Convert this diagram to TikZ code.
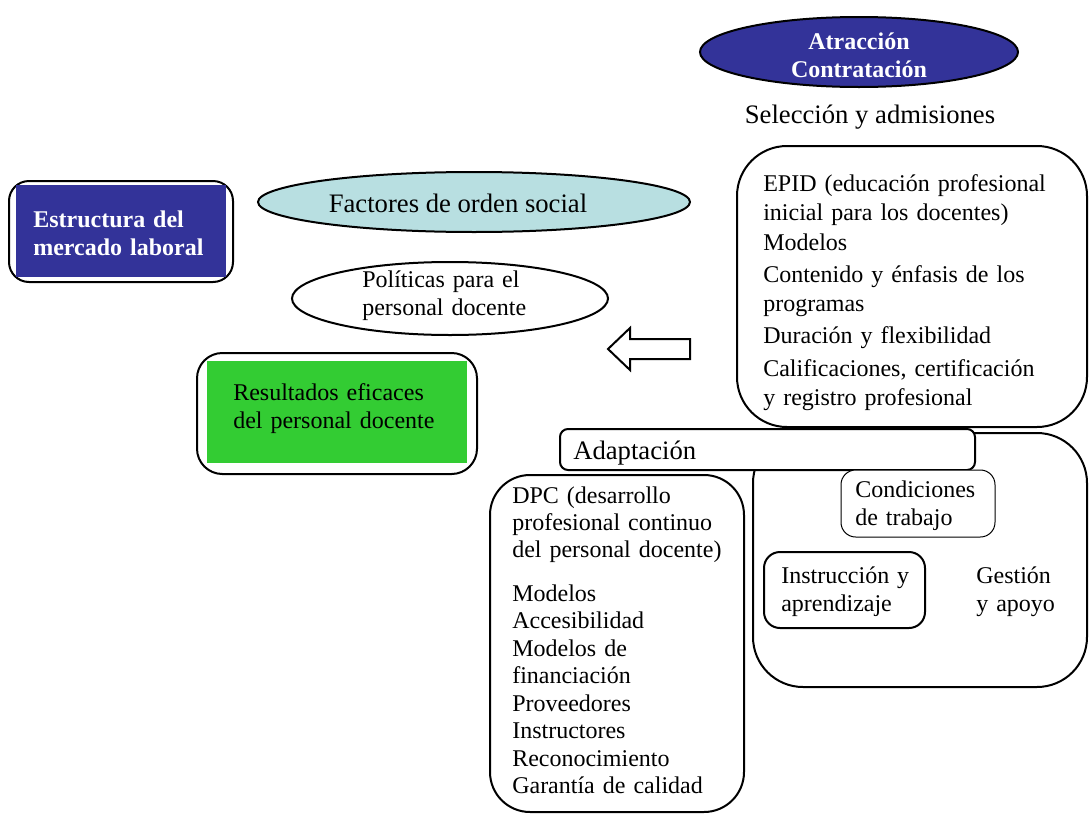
\documentclass[tikz,border=0pt]{standalone}
\usepackage{fontspec}
\setmainfont{Liberation Serif}
\usetikzlibrary{shapes.geometric}
\definecolor{azul}{HTML}{333399}
\definecolor{verde}{HTML}{33CC33}
\definecolor{celeste}{HTML}{B8DFE1}

\begin{document}
\begin{tikzpicture}[x=0.75pt,y=-0.75pt,
    borde/.style={draw,line width=1.5pt,fill=white,inner sep=0pt},
    elipse/.style={ellipse,draw,line width=1.5pt,inner sep=0pt},
    texto/.style={anchor=base west,inner sep=0pt,align=left,text width=#1,font=\fontsize{18}{21}\selectfont},
    grande/.style={inner sep=0pt,font=\fontsize{20}{24}\selectfont}]
\useasboundingbox (0,0) rectangle (1089,814);

\node[elipse,fill=azul,minimum width=238.5pt,minimum height=52.5pt] (atraccion) at (859,52) {};
\node[text=white,align=center,inner sep=0pt,font=\fontsize{18}{21}\selectfont\bfseries] (tatraccion)
    at (859,55) {Atracción\\Contratación};
\node[grande] (seleccion) at (870,117) {Selección y admisiones};

\node[borde,rounded corners=37.5pt,minimum width=262.5pt,minimum height=210.75pt] (epid) at (912,286.5) {};
\node[texto=250pt,font=\fontsize{18}{21.75}\selectfont] (tepid) at (763,191) {EPID (educación profesional\\
    inicial para los docentes)\\[0.75pt]Modelos\\[2.25pt]Contenido y énfasis de los\\programas\\[2.25pt]
    Duración y flexibilidad\\[3pt]Calificaciones, certificación\\y registro profesional};

\node[borde,rounded corners=15pt,minimum width=168pt,minimum height=75.75pt] (estructura) at (121,231.5) {};
\node[fill=azul,inner sep=0pt,minimum width=157.5pt,minimum height=69pt] (azulbox) at (121,231) {};
\node[texto=150pt,text=white,font=\fontsize{18}{21}\selectfont\bfseries] (testructura) at (33,227)
    {Estructura del\\mercado laboral};

\node[elipse,fill=celeste,minimum width=324pt,minimum height=45pt] (factores) at (474,202) {};
\node[grande] (tfactores) at (458,203) {Factores de orden social};

\node[elipse,fill=white,minimum width=237pt,minimum height=54.75pt] (politicas) at (450,298.5) {};
\node[texto=150pt] (tpoliticas) at (362,287) {Políticas para el\\personal docente};

\draw[line width=1.5pt,line join=miter] (608,349) -- (630,328) -- (630,339) -- (690,339) -- (690,359)
    -- (630,359) -- (630,370) -- cycle;

\node[borde,rounded corners=19pt,minimum width=210pt,minimum height=90.75pt] (resultados) at (337,413.5) {};
\node[fill=verde,inner sep=0pt,minimum width=195pt,minimum height=76.5pt] (verdebox) at (337,412) {};
\node[texto=190pt] (tresultados) at (233,400) {Resultados eficaces\\del personal docente};

\node[borde,rounded corners=37.5pt,minimum width=250.5pt,minimum height=190.5pt] (entorno) at (920,560) {};
\node[borde,rounded corners=6pt,minimum width=311.25pt,minimum height=30.75pt] (adaptacion) at (767.5,449.5) {};
\node[grande,anchor=base west] (tadaptacion) at (573,459) {Adaptación};

\node[borde,line width=0.75pt,rounded corners=11pt,minimum width=115.5pt,minimum height=50.25pt] (condiciones) at (918,503.5) {};
\node[texto=110pt] (tcondiciones) at (855,497) {Condiciones\\de trabajo};

\node[borde,rounded corners=12pt,minimum width=120.75pt,minimum height=57pt] (instruccion) at (844.5,590) {};
\node[texto=115pt] (tinstruccion) at (781,583) {Instrucción y\\aprendizaje};
\node[texto=80pt] (gestion) at (976,583) {Gestión\\y apoyo};

\node[borde,rounded corners=30pt,minimum width=190.5pt,minimum height=252.75pt] (dpc) at (617,643.5) {};
\node[texto=180pt,font=\fontsize{18}{20.6}\selectfont] (tdpc) at (512,503) {DPC (desarrollo\\profesional continuo\\
    del personal docente)\\[12pt]Modelos\\Accesibilidad\\Modelos de\\financiación\\Proveedores\\
    Instructores\\Reconocimiento\\Garantía de calidad};

\end{tikzpicture}
\end{document}
